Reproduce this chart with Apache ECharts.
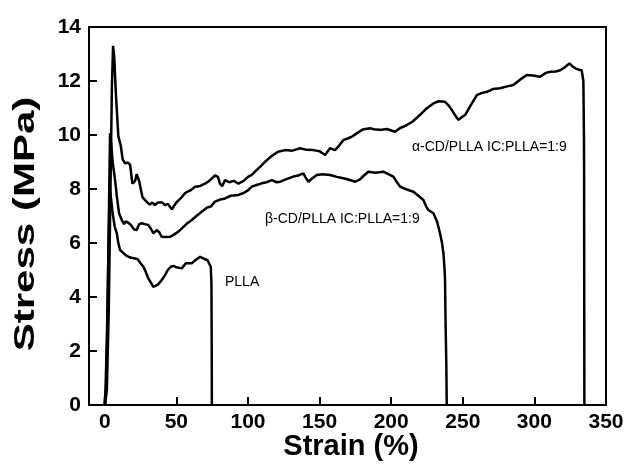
<!DOCTYPE html>
<html>
<head>
<meta charset="utf-8">
<script src="https://cdn.jsdelivr.net/npm/echarts@6/dist/echarts.min.js"></script>
<style>
  html, body { margin: 0; padding: 0; background: #fff; }
  #chart { width: 629px; height: 465px; }
</style>
</head>
<body>
<div id="chart"></div>
<script>
// Stress–strain curves: [strain %, stress MPa]
const alphaCurve = [
  [0.3,0],[1.5,0.6],[2.8,3.5],[4,8],[5,11.8],[5.8,13.3],[6.6,12.9],[7.8,11.5],[9.5,9.95],[11.2,9.6],
  [12.5,9.1],[14.2,8.95],[16,8.98],[17.7,8.9],[19.3,8.2],[21.2,8.3],[22.3,8.55],[24,8.3],[26.3,7.7],
  [28,7.6],[29.7,7.5],[31.5,7.42],[33.2,7.5],[35,7.4],[37,7.5],[40.2,7.5],[42,7.4],[44,7.45],[46.8,7.25],
  [48,7.3],[50,7.5],[53,7.65],[56,7.84],[57.7,7.9],[60,7.95],[63,8.08],[66,8.1],[70,8.2],[73,8.3],
  [77,8.5],[79,8.45],[80.5,8.2],[82,8.1],[84,8.33],[87,8.25],[90,8.3],[93.3,8.2],[97,8.3],[100,8.45],
  [102.6,8.52],[106,8.7],[109,8.85],[112,9.01],[116,9.2],[121,9.38],[126,9.44],[131,9.42],[136.4,9.51],
  [141,9.45],[145.7,9.44],[150,9.4],[153.8,9.26],[157.3,9.51],[160.8,9.44],[163.5,9.6],[166.6,9.81],
  [170,9.88],[173,9.95],[175.9,10.06],[180,10.2],[185.3,10.25],[189,10.2],[192.3,10.19],[197,10.22],
  [202.7,10.12],[206,10.25],[210.9,10.37],[215,10.5],[220,10.74],[224,10.95],[229.5,11.17],[233,11.25],
  [237.6,11.23],[240,11.1],[242.3,10.93],[245,10.7],[247,10.56],[249,10.65],[251.6,10.74],[255,11.05],
  [259.8,11.48],[263,11.55],[266.8,11.6],[271,11.7],[276,11.73],[281,11.8],[285.3,11.85],[290,12.05],
  [294.7,12.22],[299,12.2],[304,12.16],[308,12.3],[311,12.34],[315,12.35],[318,12.4],[321,12.5],
  [324.5,12.65],[326.5,12.55],[328.5,12.47],[331,12.42],[333,12.4],[334.2,12.0],[334.6,10],[334.7,8.8],
  [334.8,4],[334.9,0]
];
const betaCurve = [
  [0.2,0],[1,0.8],[2,3.5],[3,7.5],[3.7,10.06],[4.5,9.7],[5.5,9.0],[7.2,8.33],[8.5,7.7],[10,7.1],
  [11.9,6.85],[13.5,6.7],[14.5,6.8],[16.5,6.75],[18.5,6.65],[20.5,6.5],[22.3,6.48],[24,6.7],[25.8,6.73],
  [28,6.7],[30.4,6.67],[32,6.55],[33.9,6.36],[35,6.4],[36.3,6.48],[38,6.4],[39.8,6.23],[42,6.22],
  [45.6,6.23],[48,6.3],[51.4,6.42],[54,6.55],[57,6.7],[60.8,6.85],[64,7.0],[67.7,7.16],[71,7.3],
  [74,7.35],[77,7.53],[80,7.6],[84,7.65],[88,7.75],[93.3,7.78],[97,7.85],[100,7.95],[102.6,8.09],
  [106,8.15],[109.6,8.21],[113,8.25],[116.6,8.33],[120,8.25],[122.6,8.27],[126,8.35],[131.7,8.46],
  [135,8.5],[138.7,8.58],[140,8.45],[142.2,8.27],[145,8.4],[148,8.52],[152,8.55],[157.3,8.52],
  [162,8.45],[166.6,8.4],[170,8.35],[174.8,8.27],[178,8.35],[181,8.5],[184,8.64],[189,8.6],[194.5,8.64],
  [198,8.55],[201.5,8.46],[204,8.25],[206.2,8.09],[210,8.0],[215.5,7.9],[219,7.75],[222.5,7.59],
  [224.5,7.35],[226,7.22],[229.5,7.1],[232,6.8],[234.1,6.36],[235.5,6.0],[236.5,5.62],[237.3,5.0],
  [237.6,4.63],[238,3],[238.5,1.5],[238.8,0]
];
const pllaCurve = [
  [-0.3,0],[0.5,0.5],[1.5,2.5],[2.5,5.5],[3.5,8.05],[4.5,7.6],[5.5,7.1],[7,6.6],[8.4,6.36],[9.5,6.0],
  [10.7,5.74],[12.5,5.65],[14.5,5.55],[16.5,5.49],[18.5,5.45],[19.5,5.5],[21.2,5.43],[23,5.4],[25,5.25],
  [27,5.12],[28.5,4.95],[30.4,4.69],[32,4.55],[33.9,4.38],[34.9,4.32],[37,4.45],[39.8,4.63],[42,4.8],
  [44,5.0],[46.1,5.12],[48,5.15],[50,5.1],[53.8,5.06],[56.6,5.25],[60.8,5.25],[63,5.35],[66.6,5.49],
  [68,5.45],[70,5.4],[71.7,5.37],[73,5.3],[74,5.12],[74.5,4.5],[74.7,2],[74.8,0]
];

const strainTicks = [0, 50, 100, 150, 200, 250, 300, 350];
const seriesNames = ['α-CD/PLLA IC:PLLA=1:9', 'β-CD/PLLA IC:PLLA=1:9', 'PLLA'];
const xTitle = 'Strain (%)';
const yTitle = 'Stress (MPa)';

const chart = echarts.init(document.getElementById('chart'), null, { renderer: 'canvas' });

const tickFont = { color: '#000', fontFamily: '"Liberation Sans", Arial, sans-serif', fontWeight: 'bold', fontSize: 21 };
const noteFont = '14px "Liberation Sans", Arial, sans-serif';
const titleFont = 'bold 29px "Liberation Sans", Arial, sans-serif';

function curve(name, data) {
  return {
    name, type: 'line', data, showSymbol: false, smooth: false,
    lineStyle: { color: '#000', width: 2.5 }, itemStyle: { color: '#000' },
    z: 3, animation: false
  };
}

chart.setOption({
  animation: false,
  backgroundColor: '#fff',
  grid: { left: 89, top: 27, right: 23, bottom: 60, show: true, borderColor: '#000', borderWidth: 2, backgroundColor: 'transparent' },
  xAxis: {
    type: 'value', min: -11, max: 350,
    axisLine: { show: true, onZero: false, lineStyle: { color: '#000', width: 2 } },
    axisTick: { show: true, inside: true, length: 8, lineStyle: { color: '#000', width: 2 }, customValues: strainTicks },
    axisLabel: Object.assign({ margin: 7, customValues: strainTicks }, tickFont),
    splitLine: { show: false }
  },
  yAxis: {
    type: 'value', min: 0, max: 14, interval: 2,
    axisLine: { show: true, onZero: false, lineStyle: { color: '#000', width: 2 } },
    axisTick: { show: true, inside: true, length: 8, lineStyle: { color: '#000', width: 2 } },
    axisLabel: Object.assign({ margin: 8 }, tickFont),
    splitLine: { show: false }
  },
  series: [
    curve(seriesNames[0], alphaCurve),
    curve(seriesNames[1], betaCurve),
    curve(seriesNames[2], pllaCurve)
  ],
  graphic: [
    { type: 'text', left: 412, top: 140, style: { text: seriesNames[0], font: noteFont, fill: '#000' } },
    { type: 'text', left: 265, top: 212, style: { text: seriesNames[1], font: noteFont, fill: '#000' } },
    { type: 'text', left: 225, top: 275, style: { text: seriesNames[2], font: noteFont, fill: '#000' } },
    { type: 'text', x: 351, y: 447, style: { text: xTitle, font: titleFont, fill: '#000', align: 'center', verticalAlign: 'middle' } },
    { type: 'text', x: 26, y: 224, rotation: Math.PI / 2, scaleX: 1.45, style: { text: yTitle, font: titleFont, fill: '#000', align: 'center', verticalAlign: 'middle' } }
  ]
});
</script>
</body>
</html>
